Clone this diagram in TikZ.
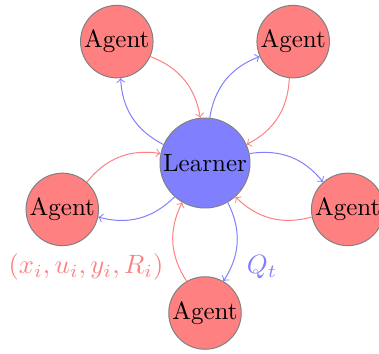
\documentclass[tikz,border=0pt]{standalone}
\begin{document}
\begin{tikzpicture}[x=0.4pt,y=-0.4pt,
  agentnode/.style={circle,draw=gray,fill=red!50,inner sep=0pt,minimum size=29pt},
  learnernode/.style={circle,draw=gray,fill=blue!50,inner sep=0pt,minimum size=36pt},
  toagent/.style={->,blue!50,bend left=30},
  tolearner/.style={->,red!50,bend left=30},
  edgelabel/.style={scale=1.06}]
\useasboundingbox (0,0) rectangle (379,353);
\node[learnernode] (L) at (205,163) {Learner};
\node[agentnode] (A1) at (205,313) {Agent};
\node[agentnode] (A2) at (347.7,209.4) {Agent};
\node[agentnode] (A3) at (293.2,41.6) {Agent};
\node[agentnode] (A4) at (116.8,41.6) {Agent};
\node[agentnode] (A5) at (62.3,209.4) {Agent};
\foreach \a in {A1,A2,A3,A4,A5}{
  \draw[tolearner] (\a) to (L);
  \draw[toagent] (L) to (\a);
}
\node[edgelabel,red!50] (lab) at (86,267) {$(x_i,u_i,y_i,R_i)$};
\node[edgelabel,blue!50] (q) at (262,267) {$Q_t$};
\end{tikzpicture}
\end{document}
